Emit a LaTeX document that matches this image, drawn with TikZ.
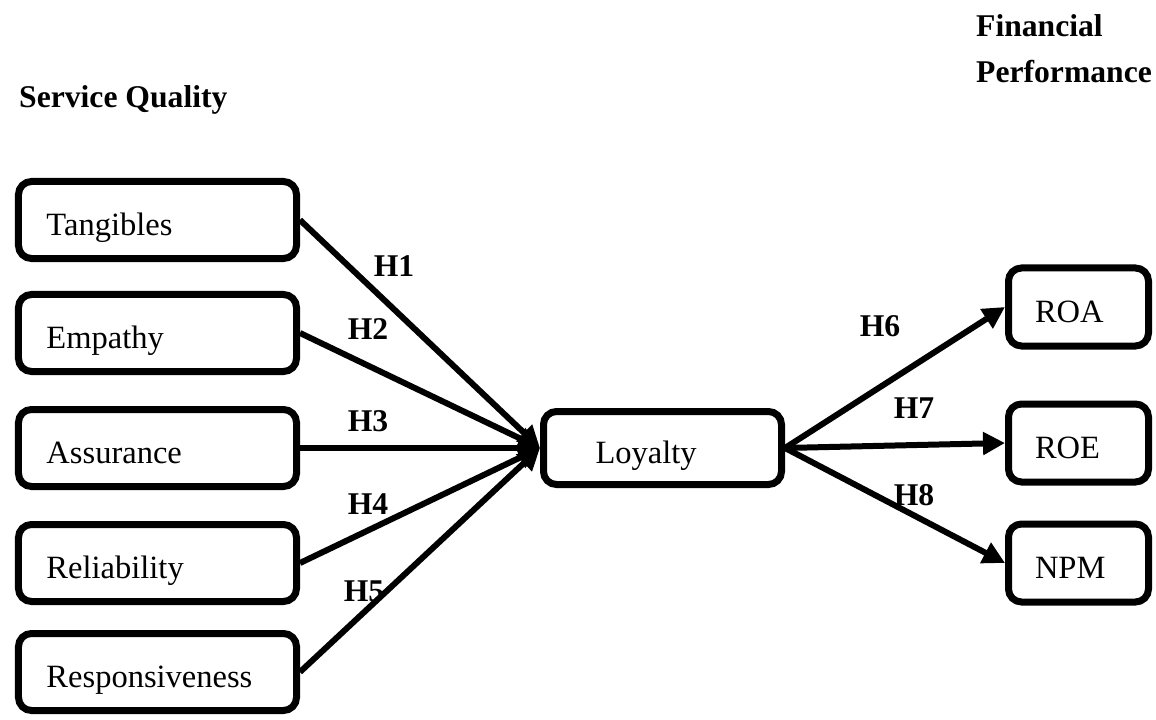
\documentclass[tikz,border=0pt]{standalone}
\usepackage{fontspec}
\setmainfont{Liberation Serif}
\usetikzlibrary{arrows.meta,positioning}
\tikzset{>={Triangle[length=4.4mm,width=4.4mm]}}
\tikzset{factor/.style={draw, line width=1.4mm, rounded corners=2.6mm, align=left,
    font=\fontsize{18.5}{22}\selectfont, inner ysep=0pt, text height=7.2mm, text depth=1mm}}
\tikzset{dimbox/.style={factor, text width=44.4mm, inner xsep=5.6mm, minimum height=15.4mm}}
\tikzset{midbox/.style={factor, text width=26.8mm, inner xsep=10.4mm, minimum height=14.6mm}}
\tikzset{ratiobox/.style={factor, text width=17.4mm, inner xsep=5.3mm, minimum height=15.6mm}}
\tikzset{hyp/.style={font=\fontsize{18}{22}\selectfont\bfseries}}
\tikzset{path/.style={->, line width=1.2mm}}

\begin{document}
\begin{tikzpicture}[x=0.2mm,y=-0.2mm]
      \useasboundingbox (0,0) rectangle (1156,720);
      % titles
      \node[hyp, anchor=base west] (sq) at (13,108) {Service Quality};
      \node[hyp, anchor=base west] (fp1) at (970,37) {Financial};
      \node[hyp, anchor=base west] (fp2) at (970,83) {Performance};
      % boxes
      \node[dimbox] (tan) at (157.5,220) {Tangibles};
      \node[dimbox] (emp) at (157.5,333) {Empathy};
      \node[dimbox] (ass) at (157.5,448) {Assurance};
      \node[dimbox] (rel) at (157.5,563) {Reliability};
      \node[dimbox] (res) at (157.5,672) {Responsiveness};
      \node[midbox] (loy) at (662.5,448) {Loyalty};
      \node[ratiobox] (roa) at (1078.5,307) {ROA};
      \node[ratiobox] (roe) at (1078.5,443) {ROE};
      \node[ratiobox] (npm) at (1078.5,563) {NPM};
      % paths
      \draw[path] (tan.east) -- (loy.west);
      \draw[path] (emp.east) -- (loy.west);
      \draw[path] (ass.east) -- (loy.west);
      \draw[path] (rel.east) -- (loy.west);
      \draw[path] (res.east) -- (loy.west);
      \draw[path] (loy.east) -- (roa.west);
      \draw[path] (loy.east) -- (roe.west);
      \draw[path] (loy.east) -- (npm.west);
      % hypotheses
      \node[hyp] (h1) at (394,266) {H1};
      \node[hyp] (h2) at (368,329) {H2};
      \node[hyp] (h3) at (368,421) {H3};
      \node[hyp] (h4) at (368,504) {H4};
      \node[hyp] (h5) at (364,591) {H5};
      \node[hyp] (h6) at (880,326) {H6};
      \node[hyp] (h7) at (914,408) {H7};
      \node[hyp] (h8) at (914,495) {H8};
    \end{tikzpicture}
\end{document}
